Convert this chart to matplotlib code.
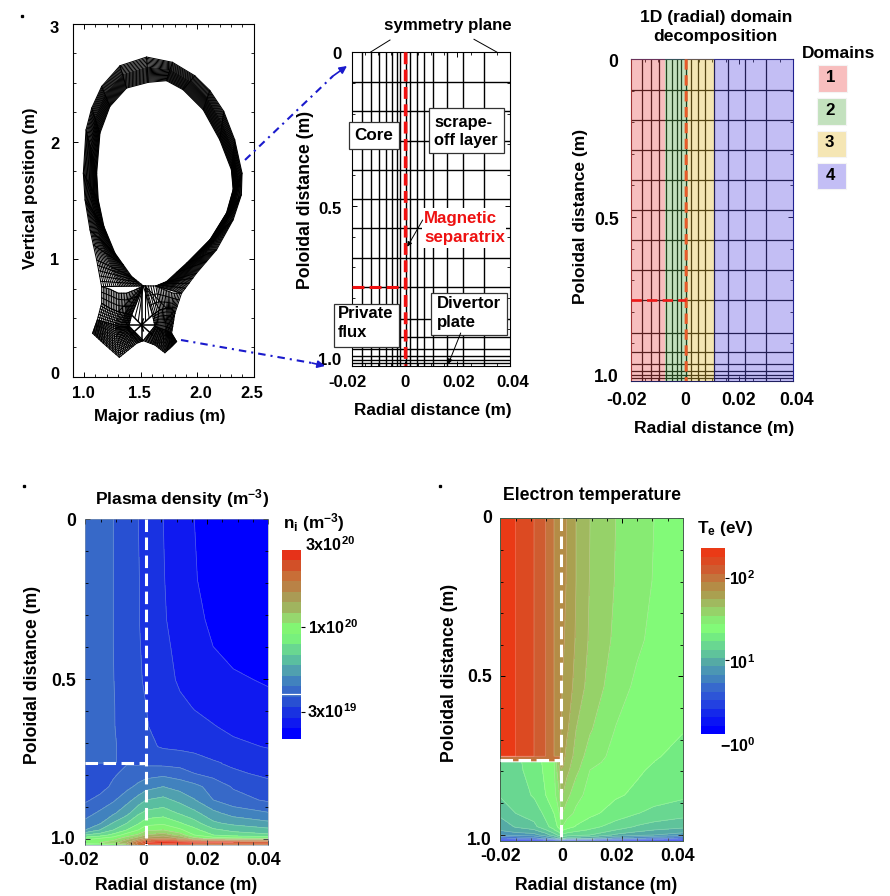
import numpy as np
import matplotlib
matplotlib.use("Agg")
import matplotlib.pyplot as plt
from matplotlib.colors import ListedColormap, BoundaryNorm
from matplotlib.transforms import ScaledTranslation
from matplotlib.patches import Rectangle

plt.rcParams.update({
    "font.family": ["Liberation Sans", "DejaVu Sans"], "font.weight": "bold", "font.size": 12,
    "mathtext.fontset": "custom", "mathtext.rm": "Liberation Sans:bold",
    "mathtext.bf": "Liberation Sans:bold", "mathtext.default": "rm",
})

W, H = 890, 896

# ---- tokamak mesh (major radius / vertical position, m)
outer_R = [1.156,1.112,1.053,1.009,0.994,1.018,1.068,1.156,1.318,1.553,1.782,1.979,2.112,2.235,2.332,2.397,2.391,2.318,2.171,1.994,1.862]
outer_Z = [0.766,0.993,1.249,1.504,1.731,2.100,2.285,2.469,2.645,2.719,2.674,2.560,2.435,2.257,2.015,1.731,1.547,1.334,1.079,0.880,0.710]
inner_R = [1.524,1.421,1.274,1.176,1.126,1.112,1.141,1.229,1.376,1.568,1.729,1.876,2.053,2.200,2.303,2.318,2.259,2.112,1.906,1.729,1.635]
inner_Z = [0.772,0.852,1.050,1.277,1.504,1.731,2.072,2.299,2.455,2.504,2.518,2.441,2.271,2.015,1.760,1.590,1.391,1.164,0.965,0.809,0.772]
surface_frac = [0,.05,.10,.15,.20,.25,.30,.35,.40,.44,.48,.52,.56,.60,.64,.68,.72,.76,.80,.84,.88,.92,.96,1]
knot_params = [0,.2,.4,.6,.8,1,1.5,2,3,4,5,6,7,8,9,10,11,12,13,14,15,16,17,18,18.5,19,19.25,19.5,19.75,20]

left_leg_R = [[1.156,1.229,1.303,1.376,1.450,1.524],
              [1.156,1.229,1.303,1.362,1.391,1.421],
              [1.118,1.200,1.274,1.318,1.362,1.397],
              [1.076,1.171,1.312,1.391,1.465,1.524]]
left_leg_Z = [[0.766,0.744,0.710,0.710,0.738,0.772],
              [0.624,0.582,0.553,0.539,0.531,0.525],
              [0.483,0.460,0.440,0.426,0.426,0.431],
              [0.369,0.284,0.165,0.227,0.284,0.307]]
right_leg_R = [[1.524,1.635,1.715,1.788,1.862],
               [1.606,1.671,1.729,1.774,1.803],
               [1.626,1.671,1.715,1.744,1.774],
               [1.524,1.626,1.715,1.774,1.818]]
right_leg_Z = [[0.772,0.772,0.738,0.710,0.710],
               [0.525,0.568,0.582,0.582,0.539],
               [0.431,0.412,0.397,0.383,0.369],
               [0.307,0.270,0.204,0.255,0.298]]
leg_subdivisions = [3, 6, 16]
# spokes of the star-shaped cells around the lower null
star_centre = (1.509, 0.440)
star_R = [1.397,1.626,1.509,1.509,1.421,1.606,1.412,1.606,1.524,1.524]
star_Z = [0.440,0.440,0.772,0.307,0.525,0.525,0.355,0.355,0.390,0.490]
fan_top_R = [1.524,1.524,1.524,1.524,1.524,1.524,1.540,1.540,1.540,1.540,1.540]
fan_top_Z = [0.772,0.772,0.772,0.772,0.772,0.772,0.772,0.772,0.772,0.772,0.772]
fan_end_R = [1.303,1.362,1.391,1.421,1.450,1.480,1.540,1.575,1.606,1.671,1.729]
fan_end_Z = [0.553,0.539,0.531,0.525,0.505,0.475,0.475,0.505,0.525,0.568,0.582]

# ---- computational mesh (radial and poloidal distance, m)
radial_mesh = [-.0160,-.0127,-.0098,-.0071,-.0048,-.0030,-.0016,.0004,.0020,.0046,.0074,.0108,.0159,.0220,.0300]
poloidal_mesh = [.097,.191,.289,.382,.478,.572,.668,.764,.867,.928,.966,.989,1.002,1.012]
separatrix_r = 0.0004
xpoint_s = 0.764
domain_edges = [-.02,-.0074,.0010,.0107,.04]
domain_fill = ["#ea5151","#5eae51","#e4bc36","#5e51e4"]
domain_swatch = ["#f8bebe","#c3e1be","#f5e6b4","#c3bef5"]
domain_names = ["1","2","3","4"]

# ---- plasma density: colour-band position read at each grid point
dens_r = [-.02,-.0152,-.0108,-.0064,-.0026,0.0,.0056,.0111,.0158,.022,.0286,.04]
dens_s = [0,.1907,.3157,.399,.5032,.5866,.6491,.7116,.762,.764,.795,.8366,.8783,.92,.9512,.9721,.9877,.9981,1.0116,1.02]
dens_band = [
 [4.8,4.4,4.0,3.5,3.0,2.7,2.0,1.5,1.0,0.7,0.5,0.2],
 [4.8,4.4,4.0,3.5,3.05,2.7,2.05,1.5,1.05,0.75,0.5,0.2],
 [4.8,4.4,4.0,3.55,3.05,2.7,2.1,1.6,1.2,0.85,0.6,0.3],
 [4.8,4.4,4.0,3.55,3.1,2.75,2.2,1.75,1.4,1.0,0.7,0.4],
 [4.8,4.4,4.02,3.6,3.15,2.85,2.4,1.85,1.6,1.35,1.15,0.9],
 [4.8,4.4,4.05,3.6,3.2,3.0,2.55,2.2,1.95,1.7,1.5,1.3],
 [4.8,4.4,4.05,3.65,3.25,3.05,2.7,2.4,2.25,2.05,1.8,1.6],
 [4.8,4.4,4.1,3.7,3.3,3.2,2.9,2.8,2.7,2.5,2.2,1.95],
 [4.8,4.4,4.1,3.7,3.35,3.8,3.75,3.65,3.45,3.1,2.85,2.5],
 [3.2,3.4,3.7,3.95,3.9,3.8,3.75,3.65,3.45,3.1,2.85,2.5],
 [3.1,3.4,3.85,4.25,4.4,4.6,4.7,4.45,4.0,3.65,3.15,2.8],
 [3.3,3.6,4.2,4.7,5.25,5.6,6.0,5.6,5.3,4.6,3.9,3.3],
 [3.85,4.3,4.85,5.65,6.4,7.0,7.3,6.7,6.05,5.0,4.4,3.85],
 [4.6,5.2,5.85,6.7,7.85,8.3,8.55,7.9,7.3,6.3,5.6,5.1],
 [5.3,5.9,7.1,8.0,8.9,9.6,9.8,9.1,8.4,7.2,6.75,6.25],
 [6.0,7.0,8.0,9.0,10.0,10.8,11.0,10.2,9.3,8.2,7.75,7.3],
 [8.0,8.5,9.3,10.5,11.2,12.0,12.5,11.5,10.0,9.0,8.5,8.2],
 [9.5,10.0,10.5,11.5,12.5,13.5,14.0,13.0,11.3,10.5,10.2,10.0],
 [11,11,11.5,13,15.5,17.2,17.8,17.6,17.4,17.2,17,16.8],
 [8,9,10,11,15,15.5,15.5,15,14.5,14.5,14.5,14],
]
dens_colors = ["#e63219","#d25028","#c86e37","#b98246","#aa9b55","#a0b45f","#96d76e","#82f573","#78f07d",
               "#69d791","#5abea0","#50a0af","#4182be","#3769c8","#2850d2","#1932e1","#0f19f0","#0000ff"]
dens_min, dens_max = 2.05e19, 3e20

# ---- electron temperature: colour-band position read at each grid point
te_r = [-.02,-.01495,-.00892,-.00508,-.00234,-.00059,-.00004,.00073,.00183,.0049,.00951,.01795,.02486,.03057,.04]
te_s = [0,.195,.3846,.532,.669,.752,.7524,.7692,.7703,.7956,.8746,.9325,.9747,.9852,1.001,1.0116,1.02]
te_band = [
 [21.9,21,20,19,18,17.6,17.4,17.3,17.0,16.0,15.0,14.0,13.45,13.0,12.3],
 [21.9,21,20,19,18,17.6,17.4,17.25,16.95,16.0,14.95,13.95,13.4,12.95,12.3],
 [21.9,21,20,19,18,17.6,17.3,17.1,16.8,15.9,14.85,13.8,13.2,12.75,12.2],
 [21.9,21,20,19,18,17.5,17.1,16.9,16.6,15.65,14.6,13.5,12.8,12.5,12.15],
 [21.9,21,20,19,18,17.4,17.0,16.7,16.2,15.0,14.1,12.95,12.6,12.3,12.05],
 [21.9,21,20,19,18,17.3,16.8,16.3,15.7,14.65,13.5,12.7,12.4,12.1,11.7],
 [18.5,18.5,18.5,18.5,18.5,18.5,16.8,16.3,15.7,14.65,13.5,12.7,12.4,12.1,11.7],
 [18.5,18.5,18.5,18.5,18.5,18.5,16.5,16.1,15.5,14.5,13.3,12.65,12.3,12.0,11.55],
 [10.2,10.75,11.5,12.25,12.9,15.2,16.5,16.1,15.5,14.5,13.3,12.65,12.3,12.0,11.55],
 [10.2,10.7,11.45,12.2,12.85,15.0,15.9,15.9,15.3,14.3,13.0,12.55,12.15,11.85,11.3],
 [10.1,10.5,11.1,12.0,12.6,13.9,14.95,14.9,14.4,13.25,12.75,12.15,11.8,11.5,11.2],
 [9.3,10.0,10.5,11.2,12.0,13.0,13.9,13.9,13.35,12.85,12.3,11.5,11.05,10.7,10.4],
 [8.3,9.1,9.7,10.8,11.3,12.4,12.95,12.9,12.6,11.9,11.3,10.6,9.9,9.6,9.25],
 [8.1,8.6,8.9,9.9,10.9,11.6,12.2,12.0,11.7,11.3,10.9,10.0,9.4,9.0,8.65],
 [7.0,7.4,7.6,8.5,9.5,10.3,10.7,10.7,10.5,10.3,10.0,8.8,8.3,8.0,7.5],
 [4.5,5,5.5,6.5,7.5,8.5,9,9,8.7,8.3,8,6.5,6,5.5,4.5],
 [1,1,1,1,1.5,2,2,1.5,1,1,1,1,0.8,0.6,0.5],
]
te_colors = ["#ea3a16","#dc4a22","#cf5c30","#c3743c","#b48c46","#aaa050","#a0b95f","#96d269","#87eb73","#82fa78",
             "#73eb82","#69d791","#5fc39b","#55aaa5","#4b96b4","#4182be","#3769cd","#2d55d7","#2341e1","#1428eb","#0a14f5","#0000ff"]
te_min, te_max = 1.26, 227.0

radial_ticks = [-0.02, 0, 0.02, 0.04]
radial_labels = ["-0.02", "0", "0.02", "0.04"]
poloidal_ticks = [0, 0.5, 1.0]
poloidal_labels = ["0", "0.5", "1.0"]

fig = plt.figure(figsize=(W / 100, H / 100), dpi=100, facecolor="white")
FS = 12.5


def px_axes(x0, y0, x1, y1, **kw):
    return fig.add_axes([x0 / W, 1 - y1 / H, (x1 - x0) / W, (y1 - y0) / H], **kw)


def place_ticks(ax, xt, xl, x_centers, xpad, yt, yl, y_centers, yright, size, minor_x=None, minor_y=None):
    fig.canvas.draw()
    ax.set_xticks(xt, xl)
    ax.set_yticks(yt, yl)
    if minor_x is not None:
        ax.set_xticks(minor_x, minor=True)
    if minor_y is not None:
        ax.set_yticks(minor_y, minor=True)
    ax.tick_params(which="major", direction="in", length=3.5, width=0.7, labelsize=size,
                   top=True, right=True, pad=xpad)
    ax.tick_params(which="minor", direction="in", length=2, width=0.6, top=True, right=True)
    for t, lab, c in zip(xt, ax.get_xticklabels(), x_centers):
        dx = c - ax.transData.transform((t, ax.get_ylim()[0]))[0]
        lab.set_transform(lab.get_transform() + ScaledTranslation(dx * 0.01, 0, fig.dpi_scale_trans))
    bb = ax.get_position()
    ax_left = bb.x0 * W
    for t, lab, c in zip(yt, ax.get_yticklabels(), y_centers):
        py = H - ax.transData.transform((ax.get_xlim()[0], t))[1]
        dx = yright - (ax_left - 3)
        lab.set_transform(lab.get_transform() + ScaledTranslation(dx * 0.01, -(c - py) * 0.01, fig.dpi_scale_trans))


# ---- panel 1: tokamak mesh
ax1 = px_axes(72.7, 24, 253.7, 376.7)
oR, oZ, iR, iZ = map(np.array, (outer_R, outer_Z, inner_R, inner_Z))
LW1 = 0.75
for f in surface_frac:
    ax1.plot(oR * (1 - f) + iR * f, oZ * (1 - f) + iZ * f, color="k", lw=LW1)
for c in knot_params:
    k = min(int(c), len(outer_R) - 2)
    w = c - k
    ax1.plot([oR[k] * (1 - w) + oR[k + 1] * w, iR[k] * (1 - w) + iR[k + 1] * w],
             [oZ[k] * (1 - w) + oZ[k + 1] * w, iZ[k] * (1 - w) + iZ[k + 1] * w], color="k", lw=LW1)
for rows_R, rows_Z in ((left_leg_R, left_leg_Z), (right_leg_R, right_leg_Z)):
    rr, zz = np.array(rows_R), np.array(rows_Z)
    for i, n in enumerate(leg_subdivisions):
        for f in np.linspace(0, 1, n + 1):
            ax1.plot(rr[i] * (1 - f) + rr[i + 1] * f, zz[i] * (1 - f) + zz[i + 1] * f, color="k", lw=LW1)
    ncol = rr.shape[1]
    for c in np.linspace(0, ncol - 1, 5 * (ncol - 1) + 1):
        k = min(int(c), ncol - 2)
        w = c - k
        ax1.plot(rr[:, k] * (1 - w) + rr[:, k + 1] * w, zz[:, k] * (1 - w) + zz[:, k + 1] * w, color="k", lw=LW1)
for a, b in zip(star_R, star_Z):
    ax1.plot([star_centre[0], a], [star_centre[1], b], color="k", lw=1.1)
for a, b, c, d in zip(fan_top_R, fan_top_Z, fan_end_R, fan_end_Z):
    ax1.plot([a, c], [b, d], color="k", lw=LW1)
ax1.set_xlim(0.9, 2.5)
ax1.set_ylim(0, 3)
place_ticks(ax1, [1.0, 1.5, 2.0, 2.5], ["1.0", "1.5", "2.0", "2.5"], [83, 139, 201, 252], 7,
            [0, 1, 2, 3], ["0", "1", "2", "3"], [373, 259, 143, 27], 66, 11.8,
            minor_x=np.arange(1.0, 2.5, 0.1), minor_y=np.arange(0, 3, 0.25))


def mesh_lines(ax, color="k", lw=1.0):
    for r in radial_mesh:
        ax.plot([r, r], [0, 1.02], color=color, lw=lw)
    for s in poloidal_mesh:
        ax.plot([-0.02, 0.04], [s, s], color=color, lw=lw)


minor_r = np.arange(-0.02, 0.0401, 0.005)
minor_s = np.arange(0, 1.02, 0.1)

# ---- panel 2: computational mesh
ax2 = px_axes(351.7, 52.3, 510.3, 365.7)
mesh_lines(ax2)
ax2.plot([separatrix_r] * 2, [0, 1.02], color="#f01010", lw=2.6, dashes=(3.3, 1.5), zorder=5, snap=False)
ax2.plot([-0.02, separatrix_r], [xpoint_s] * 2, color="#f01010", lw=2.2, dashes=(3.9, 1.7), zorder=5)
ax2.set_xlim(-0.02, 0.04)
ax2.set_ylim(1.02, 0)
place_ticks(ax2, radial_ticks, radial_labels, [347.7, 405, 459, 513], 7,
            poloidal_ticks, poloidal_labels, [53, 208, 359], 348, 12.1, minor_x=minor_r, minor_y=minor_s)

# ---- panel 3: domain decomposition
ax3 = px_axes(631, 59.3, 793.3, 381)
mesh_lines(ax3, lw=0.9)
for e0, e1, c in zip(domain_edges[:-1], domain_edges[1:], domain_fill):
    ax3.axvspan(e0, e1, facecolor=c, edgecolor="none", alpha=0.373, zorder=4)
ax3.plot([separatrix_r] * 2, [0, 1.02], color="#e85a28", lw=2.2, dashes=(3.4, 1.8), zorder=5, snap=False)
ax3.plot([-0.02, separatrix_r], [xpoint_s] * 2, color="#f01818", lw=1.9, dashes=(3.9, 2.0), zorder=5)
ax3.set_xlim(-0.02, 0.04)
ax3.set_ylim(1.02, 0)
place_ticks(ax3, radial_ticks, radial_labels, [626.7, 685, 739, 796.7], 8,
            poloidal_ticks, poloidal_labels, [60, 218, 375], 626.7, 12.7, minor_x=minor_r, minor_y=minor_s)
for sp, c in zip(("left", "top", "right", "bottom"), ("#702020", "#202060", "#202090", "#202060")):
    ax3.spines[sp].set_color(c)


# ---- panels 4, 5: contour maps
def field_panel(box, r, s, band, colors, vmin, vmax, centers_x, pad, centers_y, yright):
    ax = px_axes(*box)
    n = len(colors)
    ratio = (vmax / vmin) ** (1.0 / n)
    values = vmin * ratio ** np.array(band, dtype=float)
    levels = vmin * ratio ** np.arange(n + 1)
    cmap = ListedColormap(colors[::-1])
    ax.contourf(r, s, np.log10(values), levels=np.log10(levels), cmap=cmap,
                norm=BoundaryNorm(np.log10(levels), n), extend="both")
    ax.contour(r, s, np.log10(values), levels=np.log10(levels), colors="white", linewidths=0.5, alpha=0.28)
    ax.set_xlim(-0.02, 0.04)
    ax.set_ylim(1.02, 0)
    place_ticks(ax, radial_ticks, radial_labels, centers_x, pad, poloidal_ticks, poloidal_labels,
                centers_y, yright, 12.7, minor_x=minor_r, minor_y=minor_s)
    ax.plot([0, 0], [0, 1.02], color="white", lw=2.2, dashes=(4.1, 1.8), zorder=6)
    return ax, levels, cmap


ax4, dl, dc = field_panel((85.3, 519, 268, 845.3), dens_r, dens_s, dens_band, dens_colors, dens_min, dens_max,
                          [79, 143, 203, 264], 5, [519, 679, 837], 80)
ax4.plot([-0.02, 0], [0.763, 0.763], color="white", lw=2.2, dashes=(4.1, 1.8), zorder=6)
for sp in ax4.spines.values():
    sp.set_linewidth(0.4)
    sp.set_color("#8899aa")

ax5, tl, tc = field_panel((500.3, 518.3, 682.7, 841), te_r, te_s, te_band, te_colors, te_min, te_max,
                          [500.7, 562, 617, 678], 5, [516, 675, 838], 496)
ax5.plot([-0.02, 0], [0.765, 0.765], color="white", lw=2.2, dashes=(4.1, 1.8), zorder=6)
for sp in ax5.spines.values():
    sp.set_linewidth(0.7)
    sp.set_color("#44604c")


def colorbar_panel(box, levels, cmap, ticks):
    ax = px_axes(*box)
    ax.pcolormesh([0, 1], levels, np.arange(len(levels) - 1)[:, None], cmap=cmap, shading="flat")
    ax.set_yscale("log")
    ax.set_ylim(levels[0], levels[-1])
    ax.set_xticks([])
    ax.set_yticks(ticks, [""] * len(ticks))
    ax.minorticks_off()
    ax.yaxis.tick_right()
    ax.tick_params(axis="y", direction="out", length=3, width=0.8, pad=1)
    for sp in ax.spines.values():
        sp.set_visible(False)
    return ax


cb4 = colorbar_panel((282, 550, 301, 738.7), dl, dc, [1e20, 3e19])
cb4.axhline(3.86e19, color="white", lw=0.9)
cb5 = colorbar_panel((701, 548.3, 725, 734), tl, tc, [1e2, 1e1])

# ---- overlay in pixel coordinates: labels, boxes, arrows
ov = fig.add_axes([0, 0, 1, 1], zorder=20, facecolor="none")
ov.set_xlim(0, W)
ov.set_ylim(H, 0)
ov.axis("off")


def label(x, y, s, ha="center", color="k", rot=0, size=FS, ls=1.2):
    ov.text(x, y, s, ha=ha, va="center", color=color, rotation=rot, fontsize=size, linespacing=ls)


def box(x0, y0, x1, y1):
    ov.add_patch(Rectangle((x0, y0), x1 - x0, y1 - y0, facecolor="white", edgecolor="#333333", lw=0.9))


for x, y in ((22, 16), (24, 486), (440, 486)):
    ov.plot([x], [y], marker="s", ms=1.4, color="k")

# panel titles and axis labels
label(160, 417, "Major radius (m)", size=12.2)
label(31, 188, "Vertical position (m)", rot=90, size=12.2)
label(433, 410.5, "Radial distance (m)", size=12.3)
label(305, 200, "Poloidal distance (m)", rot=90, size=12.7)
label(448, 25.5, "symmetry plane", size=12.1)
label(715.7, 27, "1D (radial) domain\ndecomposition", size=12.6, ls=1.38)
label(714, 428, "Radial distance (m)", size=12.6)
label(580, 216, "Poloidal distance (m)", rot=90, size=12.5)
label(839, 53, "Domains", size=12.5)
label(182, 499, "Plasma density (m$^{-3}$)", size=12.5)
label(33, 675, "Poloidal distance (m)", rot=90, size=12.7)
label(176, 886, "Radial distance (m)", size=12.7)
label(592, 496, "Electron temperature", size=12.7)
label(450, 673, "Poloidal distance (m)", rot=90, size=12.7)
label(596, 885, "Radial distance (m)", size=12.7)
label(314, 523, "n$_{i}$ (m$^{-3}$)", size=12.4)
label(725, 528, "T$_{e}$ (eV)", size=12.3)
label(305, 545, "3x10$^{20}$", ha="left", size=11.6)
label(308, 628, "1x10$^{20}$", ha="left", size=11.6)
label(307, 712, "3x10$^{19}$", ha="left", size=11.6)
label(729, 579, "10$^{2}$", ha="left", size=11.6)
label(729, 663, "10$^{1}$", ha="left", size=11.6)
label(720, 746, "\u221210$^{0}$", ha="left", size=11.6)

# mesh annotations
ov.plot([390, 370.7], [40, 52], color="k", lw=0.7)
ov.plot([474, 496.7], [39.3, 52], color="k", lw=0.7)
box(349.3, 122.3, 399.3, 149.3)
label(374, 136, "Core", size=12.3)
box(429.3, 107.7, 504.3, 153.3)
label(434, 131.5, "scrape-\noff layer", ha="left", size=11.8, ls=1.3)
ov.add_patch(Rectangle((422, 208), 84, 40, facecolor="white", edgecolor="none", zorder=1))
label(424, 228, "Magnetic\nseparatrix", ha="left", color="#ee1111", size=12.2, ls=1.35)
ov.annotate("", xy=(407.3, 246.7), xytext=(422.7, 220), arrowprops=dict(arrowstyle="-|>", color="k", lw=0.7, mutation_scale=7, shrinkA=0, shrinkB=0))
box(334.3, 304, 399.3, 346.7)
label(338, 323, "Private\nflux", ha="left", size=12.0, ls=1.35)
box(430.7, 293.3, 506.7, 335)
label(437, 313, "Divertor\nplate", ha="left", size=12.1, ls=1.35)
ov.annotate("", xy=(448.3, 364), xytext=(460.7, 333), arrowprops=dict(arrowstyle="-|>", color="k", lw=0.7, mutation_scale=7, shrinkA=0, shrinkB=0))

# blue dash-dot arrows linking the panels
for (x0, y0), (x1, y1), (x2, y2) in (((245, 160), (333, 76), (347, 66)), ((181, 340), (312, 363), (325, 366))):
    ov.plot([x0, x1], [y0, y1], color="#1a1acc", lw=1.5, dashes=(3.6, 2.4, 1.0, 2.4))
    ov.annotate("", xy=(x2, y2), xytext=(x1, y1), arrowprops=dict(arrowstyle="-|>", color="#1a1acc", lw=1.2, mutation_scale=11, shrinkA=0, shrinkB=0))

# domain legend
swatch_boxes = ((818, 65, 846.7, 92), (817, 98, 846, 125), (816.5, 130.7, 845.5, 156.7), (817, 162.7, 846, 189.3))
for (x0, y0, x1, y1), c, nm in zip(swatch_boxes, domain_swatch, domain_names):
    ov.add_patch(Rectangle((x0, y0), x1 - x0, y1 - y0, facecolor=c, edgecolor="#f4f4f4", lw=0.8))
    label((x0 + x1) / 2 - 1.5, (y0 + y1) / 2 - 1, nm, size=12.2)

fig.savefig("out.png", dpi=100)
